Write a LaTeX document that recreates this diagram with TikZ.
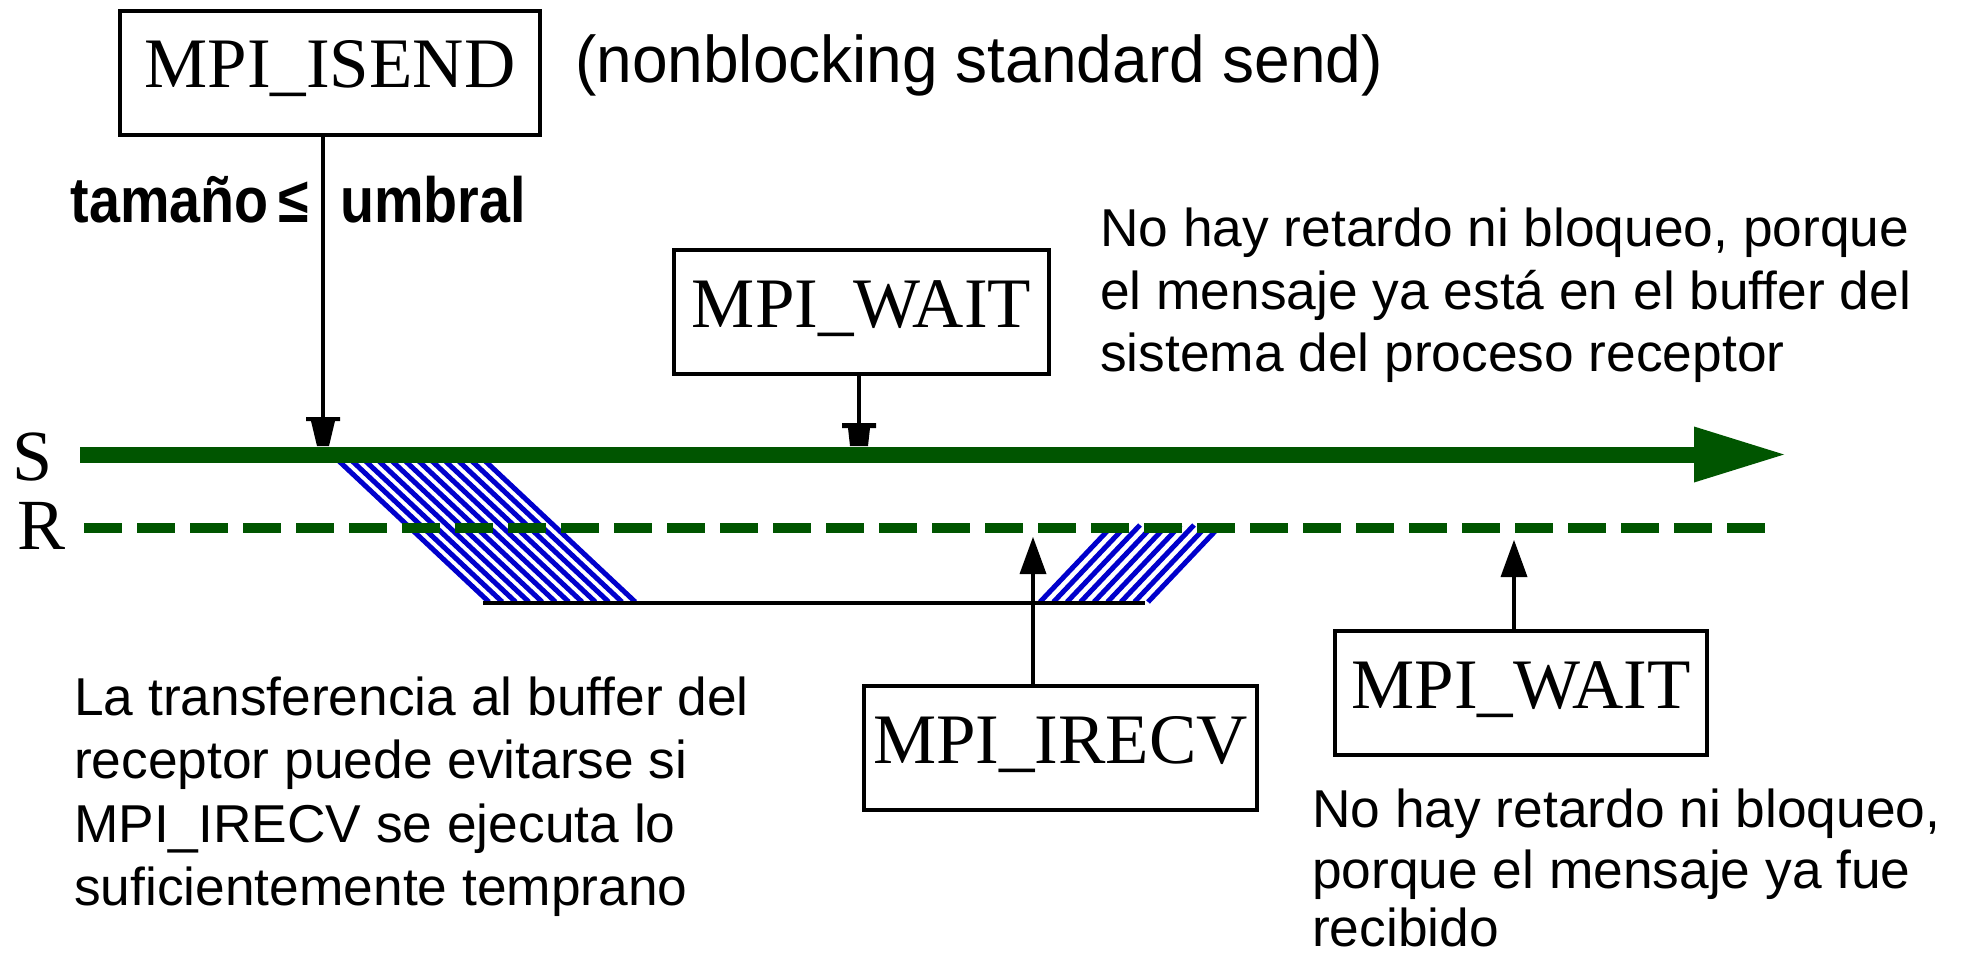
\documentclass[tikz,border=0pt]{standalone}
\usepackage{graphicx}
\usepackage{fontspec}
\setmainfont{Liberation Serif}
\setsansfont{Liberation Sans}
\usetikzlibrary{arrows.meta}
\definecolor{tlgreen}{RGB}{0,85,0}
\definecolor{hatchblue}{RGB}{0,0,204}

\pgfdeclarearrow{
  name = BluntLong,
  setup code = {
    \pgfarrowssettipend{0pt}
    \pgfarrowssetlineend{-10pt}
    \pgfarrowssetvisualbackend{-29pt}
    \pgfarrowssetbackend{-29pt}
    \pgfarrowshullpoint{0pt}{6pt}
    \pgfarrowshullpoint{0pt}{-6pt}
    \pgfarrowshullpoint{-29pt}{17pt}
    \pgfarrowshullpoint{-29pt}{-17pt}
  },
  drawing code = {
    \pgfpathmoveto{\pgfqpoint{0pt}{6pt}}
    \pgfpathlineto{\pgfqpoint{-25pt}{12pt}}
    \pgfpathlineto{\pgfqpoint{-25pt}{17pt}}
    \pgfpathlineto{\pgfqpoint{-29pt}{17pt}}
    \pgfpathlineto{\pgfqpoint{-29pt}{-17pt}}
    \pgfpathlineto{\pgfqpoint{-25pt}{-17pt}}
    \pgfpathlineto{\pgfqpoint{-25pt}{-12pt}}
    \pgfpathlineto{\pgfqpoint{0pt}{-6pt}}
    \pgfpathclose
    \pgfusepathqfill
  }
}
\pgfdeclarearrow{
  name = BluntShort,
  setup code = {
    \pgfarrowssettipend{0pt}
    \pgfarrowssetlineend{-8pt}
    \pgfarrowssetvisualbackend{-23pt}
    \pgfarrowssetbackend{-23pt}
    \pgfarrowshullpoint{0pt}{9pt}
    \pgfarrowshullpoint{0pt}{-9pt}
    \pgfarrowshullpoint{-23pt}{17pt}
    \pgfarrowshullpoint{-23pt}{-17pt}
  },
  drawing code = {
    \pgfpathmoveto{\pgfqpoint{0pt}{9pt}}
    \pgfpathlineto{\pgfqpoint{-18pt}{11pt}}
    \pgfpathlineto{\pgfqpoint{-18pt}{17pt}}
    \pgfpathlineto{\pgfqpoint{-23pt}{17pt}}
    \pgfpathlineto{\pgfqpoint{-23pt}{-17pt}}
    \pgfpathlineto{\pgfqpoint{-18pt}{-17pt}}
    \pgfpathlineto{\pgfqpoint{-18pt}{-11pt}}
    \pgfpathlineto{\pgfqpoint{0pt}{-9pt}}
    \pgfpathclose
    \pgfusepathqfill
  }
}

\tikzset{
  box/.style={draw, line width=3.5pt, inner sep=0pt, text height=77pt,
    text depth=47pt, anchor=base, font=\fontsize{71}{80}\selectfont},
  side/.style={inner sep=0pt, anchor=base west, font=\fontsize{72}{80}\selectfont},
  lbl/.style={inner sep=0pt, anchor=base west, font=\sffamily\fontsize{53.3}{62}\selectfont},
  cond/.style={inner sep=0pt, font=\sffamily\bfseries\fontsize{64}{70}\selectfont},
  conn/.style={line width=3.5pt, black},
  uparrow/.style={conn, -{Triangle[length=37pt,width=27pt,line width=0pt]}},
  hatch/.style={hatchblue, line width=5pt},
  sline/.style={tlgreen, line width=16pt, -{Triangle[length=90pt,width=56pt,line width=0pt]}},
  rline/.style={tlgreen, line width=10pt, dash pattern=on 38pt off 15pt},
  base line/.style={black, line width=4pt}
}

\begin{document}
\begin{tikzpicture}[x=1pt, y=-1pt]
\path[use as bounding box, fill=white] (0,0) rectangle (1961,955);

% hatched transfers
\foreach \i in {0,...,11} {
  \draw[hatch] ({332.5+\i*13.3},455) -- ({489+\i*13.3},602);
}
\foreach \i in {0,...,8} {
  \draw[hatch] ({1113+\i*13.5},525) -- ({1040+\i*13.5},602);
}

% time lines
\coordinate (sA) at (80,454.5);
\coordinate (sB) at (1784,454.5);
\coordinate (rA) at (84,528);
\coordinate (rB) at (1766,528);
\draw[sline] (sA) -- (sB);
\draw[rline] (rA) -- (rB);
\coordinate (bA) at (483,603);
\coordinate (bB) at (1145,603);
\draw[base line] (bA) -- (bB);

\node[side] (S) at (12,480) {S};
\node[side] (R) at (17,549) {R};

% boxes
\node[box, minimum width=420pt] (isend) at (330,88) {MPI\_ISEND};
\node[box, minimum width=375pt] (wait1) at (861.5,327) {MPI\_WAIT};
\node[box, minimum width=393pt] (irecv) at (1060.5,763) {MPI\_IRECV};
\node[box, minimum width=372pt] (wait2) at (1521,708) {MPI\_WAIT};

% connectors
\coordinate (tipIS) at (323,446);
\coordinate (tipW1) at (859,446);
\coordinate (tipIR) at (1033,537);
\coordinate (tipW2) at (1514,540);
\draw[conn, -{BluntLong}] (isend.south -| tipIS) -- (tipIS);
\draw[conn, -{BluntShort}] (wait1.south -| tipW1) -- (tipW1);
\draw[uparrow] (irecv.north -| tipIR) -- (tipIR);
\draw[uparrow] (wait2.north -| tipW2) -- (tipW2);

% texts
\node[inner sep=0pt, anchor=base west, font=\sffamily\fontsize{66}{72}\selectfont] (nb) at (575,83)
  {\scalebox{0.97}[1]{(nonblocking standard send)}};
\node[cond, anchor=base east] (cond1) at (309,222) {\scalebox{0.87}[1]{tamaño\,≤}};
\node[cond, anchor=base west] (cond2) at (340,222) {\scalebox{0.87}[1]{umbral}};

\node[lbl] (t1) at (1100,246) {No hay retardo ni bloqueo, porque};
\node[lbl] (t2) at (1100,309) {el mensaje ya está en el buffer del};
\node[lbl] (t3) at (1100,371) {sistema del proceso receptor};

\node[lbl] (l1) at (74,715) {La transferencia al buffer del};
\node[lbl] (l2) at (74,778) {receptor puede evitarse si};
\node[lbl] (l3) at (74,842) {MPI\_IRECV se ejecuta lo};
\node[lbl] (l4) at (74,905) {suficientemente temprano};

\node[lbl] (b1) at (1312,827) {No hay retardo ni bloqueo,};
\node[lbl] (b2) at (1312,888) {porque el mensaje ya fue};
\node[lbl, text depth=0pt] (b3) at (1312,946) {recibido};
\end{tikzpicture}
\end{document}
